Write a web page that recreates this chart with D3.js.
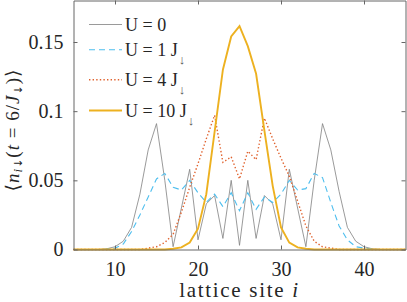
<!DOCTYPE html>
<html><head><meta charset="utf-8">
<script src="https://cdn.jsdelivr.net/npm/d3@7"></script>
<style>body{margin:0;background:#fff;} svg{display:block;} text{font-family:"Liberation Serif","DejaVu Serif",serif;}</style>
</head><body>
<svg id="c" width="407" height="302"></svg>
<script>
const sites = [5,6,7,8,9,10,11,12,13,14,15,16,17,18,19,20,21,22,23,24,25,26,27,28,29,30,31,32,33,34,35,36,37,38,39,40,41,42,43,44,45];
const u0  = [0,0,0,0,0.0005,0.002,0.006,0.016,0.04,0.072,0.091,0.05,0.002,0.03,0.058,0.007,0.033,0.039,0.008,0.05,0.003,0.05,0.008,0.039,0.033,0.007,0.058,0.03,0.002,0.05,0.091,0.072,0.042,0.016,0.006,0.002,0.0005,0,0,0,0];
const u1  = [0,0,0,0,0.0003,0.001,0.004,0.013,0.025,0.038,0.051,0.055,0.045,0.043,0.05,0.041,0.034,0.04,0.031,0.041,0.028,0.041,0.029,0.038,0.034,0.04,0.05,0.043,0.044,0.055,0.052,0.034,0.017,0.007,0.002,0.001,0.0003,0,0,0,0];
const u4  = [0,0,0,0,0,0,0,0,0,0.001,0.002,0.005,0.011,0.027,0.045,0.062,0.08,0.097,0.063,0.067,0.051,0.071,0.065,0.095,0.08,0.066,0.053,0.035,0.017,0.006,0.002,0.001,0,0,0,0,0,0,0,0,0];
const u10 = [0,0,0,0,0,0,0,0,0,0,0,0,0.0005,0.0015,0.005,0.015,0.04,0.085,0.13,0.154,0.1615,0.147,0.127,0.086,0.046,0.016,0.005,0.0015,0.0005,0,0,0,0,0,0,0,0,0,0,0,0];
const seriesNames = ["U = 0","U = 1 J","U = 4 J","U = 10 J"];
const seriesSub = ["","↓","↓","↓"];
const xTicks = [10,20,30,40];
const yTicks = [0,0.05,0.1,0.15];
const yTickLabels = ["0","0.05","0.1","0.15"];

const styles = [
  {color:"#808080", width:0.8, dash:null},
  {color:"#4DBEEE", width:1.1, dash:"6,4"},
  {color:"#E0622E", width:1.4, dash:"1.4,2.2"},
  {color:"#EDB120", width:1.9, dash:null}
];
const allSeries = [u0,u1,u4,u10];

const svg = d3.select("#c");
const L=73.5, R=405.5, T=0.5, B=249.5;
const x = d3.scaleLinear().domain([5,45]).range([L,R]);
const y = d3.scaleLinear().domain([0,0.18]).range([B,T]);
const axisColor = "#666";
const serif = '"Liberation Serif","DejaVu Serif",serif';
const arrowFont = '"DejaVu Sans","Liberation Sans",sans-serif';

// lines
const line = d3.line().x((d,i)=>x(sites[i])).y(d=>y(d));
allSeries.forEach((s,k)=>{
  svg.append("path").datum(s).attr("d",line)
    .attr("fill","none").attr("stroke",styles[k].color)
    .attr("stroke-width",styles[k].width)
    .attr("stroke-dasharray",styles[k].dash)
    .attr("stroke-linejoin","miter");
});

// axes
const fmt = d=>yTickLabels[yTicks.indexOf(d)];
const gx = svg.append("g").attr("transform",`translate(0,${B})`)
  .call(d3.axisBottom(x).tickValues(xTicks).tickSizeInner(-4).tickSizeOuter(0).tickPadding(12));
const gxt = svg.append("g").attr("transform",`translate(0,${T})`)
  .call(d3.axisTop(x).tickValues(xTicks).tickSizeInner(-4).tickSizeOuter(0).tickFormat(""));
const gy = svg.append("g").attr("transform",`translate(${L},0)`)
  .call(d3.axisLeft(y).tickValues(yTicks).tickSizeInner(-4).tickSizeOuter(0).tickPadding(10).tickFormat(fmt));
const gyr = svg.append("g").attr("transform",`translate(${R},0)`)
  .call(d3.axisRight(y).tickValues(yTicks).tickSizeInner(-4).tickSizeOuter(0).tickFormat(""));
[gx,gxt,gy,gyr].forEach(g=>{
  g.attr("font-family",null).attr("font-size",null);
  g.select(".domain").attr("stroke",axisColor);
  g.selectAll(".tick line").attr("stroke",axisColor);
  g.selectAll(".tick text").style("font-family",serif).style("font-size","20px").attr("fill","#262626");
});

// x label
const xl = svg.append("text").attr("x",(L+R)/2).attr("y",297).attr("text-anchor","middle")
  .style("font-family",serif).style("font-size","21px").style("letter-spacing","1.7px").attr("fill","#262626");
xl.append("tspan").text("lattice site ");
xl.append("tspan").attr("font-style","italic").text("i");

// y label
const yl = svg.append("text").attr("transform","translate(19,130) rotate(-90)")
  .attr("text-anchor","middle").style("font-family",serif).style("font-size","19px")
  .style("letter-spacing","1px").attr("fill","#262626");
yl.append("tspan").text("⟨");
yl.append("tspan").attr("font-style","italic").text("n");
yl.append("tspan").attr("font-style","italic").style("font-size","13px").attr("dy",3).text("i");
yl.append("tspan").style("font-size","11px").style("font-family",arrowFont).text("↓");
yl.append("tspan").attr("dy",-3).text("(");
yl.append("tspan").attr("font-style","italic").text("t");
yl.append("tspan").text(" = 6/");
yl.append("tspan").attr("font-style","italic").text("J");
yl.append("tspan").style("font-size","11px").style("font-family",arrowFont).attr("dy",3).text("↓");
yl.append("tspan").attr("dy",-3).text(")⟩");

// legend
const legY = [30.5,55.8,85.7,116.5];
seriesNames.forEach((nm,k)=>{
  const by = legY[k];
  svg.append("line").attr("x1",89).attr("x2",122).attr("y1",by-6).attr("y2",by-6)
    .attr("stroke",styles[k].color).attr("stroke-width",styles[k].width)
    .attr("stroke-dasharray",styles[k].dash);
  const t = svg.append("text").attr("x",125).attr("y",by)
    .style("font-family",serif).style("font-size","18px").attr("fill","#262626");
  t.append("tspan").text(nm);
  if(seriesSub[k]) t.append("tspan").style("font-size","13px").attr("dy",8).attr("dx",1)
    .style("font-family",serif).attr("fill","#555").text(seriesSub[k]);
});
</script>
</body></html>
